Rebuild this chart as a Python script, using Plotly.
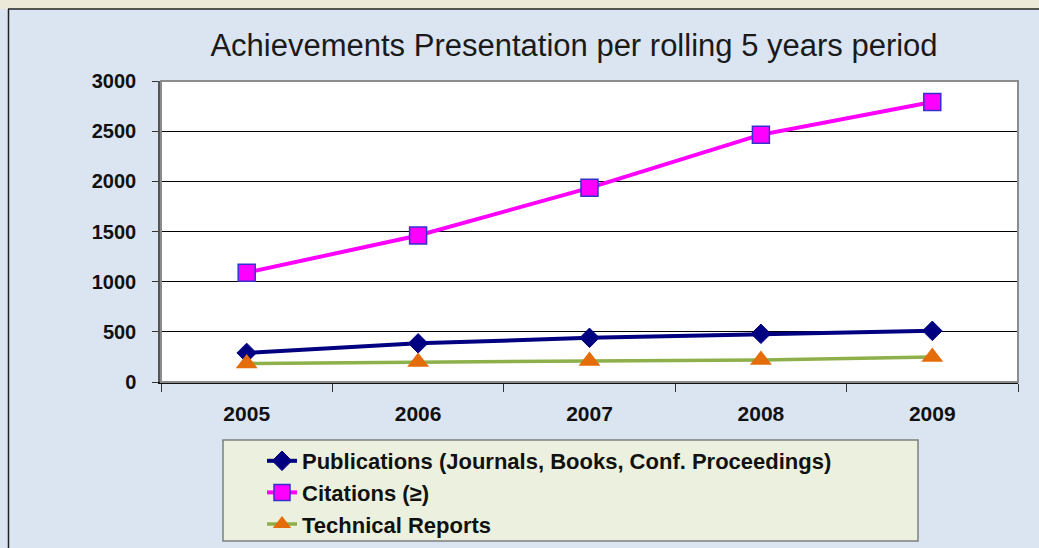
import plotly.graph_objects as go

years = ["2005", "2006", "2007", "2008", "2009"]
publications = [290, 385, 440, 480, 510]
citations = [1090, 1460, 1935, 2465, 2790]
tech_reports = [185, 200, 210, 220, 250]
y_ticks = [0, 500, 1000, 1500, 2000, 2500, 3000]

W, H = 1039, 548
L, R, T, B = 161, 1018, 81, 382

def px_x(p):
    return (p - L) / (R - L)

def px_y(p):
    return (B - p) / (B - T)

fig = go.Figure()
fig.add_trace(go.Scatter(
    x=years, y=publications, mode="lines+markers",
    name="Publications (Journals, Books, Conf. Proceedings)",
    line=dict(color="#000080", width=4),
    marker=dict(symbol="diamond", size=15, color="#000080",
                line=dict(color="#000080", width=1)),
))
fig.add_trace(go.Scatter(
    x=years, y=citations, mode="lines+markers",
    name="Citations (≥)",
    line=dict(color="#FF00FF", width=4),
    marker=dict(symbol="square", size=17, color="#FF00FF",
                line=dict(color="#3333CC", width=1.5)),
))
fig.add_trace(go.Scatter(
    x=years, y=tech_reports, mode="lines+markers",
    name="Technical Reports",
    line=dict(color="#8DB04A", width=3.5),
    marker=dict(symbol="triangle-up", size=19, color="#E46C0A",
                line=dict(color="#E46C0A", width=0)),
))

shapes = [
    # top beige strip
    dict(type="rect", xref="paper", yref="paper",
         x0=px_x(-5), x1=px_x(W + 5), y0=px_y(9), y1=px_y(-5),
         fillcolor="#ECE9D8", line=dict(width=0), layer="below"),
    # outer border lines
    dict(type="line", xref="paper", yref="paper",
         x0=px_x(8), x1=px_x(W + 5), y0=px_y(9), y1=px_y(9),
         line=dict(color="#222222", width=1.5)),
    dict(type="line", xref="paper", yref="paper",
         x0=px_x(8.5), x1=px_x(8.5), y0=px_y(9), y1=px_y(H + 5),
         line=dict(color="#222222", width=1.5)),
    # plot area border (top/right grey)
    dict(type="rect", xref="paper", yref="paper",
         x0=0, x1=1, y0=0, y1=1,
         line=dict(color="#8C8C8C", width=2), layer="above"),
    # legend box
    dict(type="rect", xref="paper", yref="paper",
         x0=px_x(223), x1=px_x(918), y0=px_y(541), y1=px_y(440),
         fillcolor="#EBF1DE", line=dict(color="#7F7F7F", width=1.5),
         layer="below"),
]

fig.update_layout(
    width=W, height=H,
    margin=dict(l=L, r=W - R, t=T, b=H - B, autoexpand=False),
    paper_bgcolor="#DBE5F1",
    plot_bgcolor="#FFFFFF",
    font=dict(family="Liberation Sans, Arial, sans-serif", color="#111111"),
    title=dict(
        text="Achievements Presentation per rolling 5 years period",
        font=dict(size=31, color="#1a1a1a"),
        x=574 / W, xanchor="center", xref="container",
        y=1 - 45 / H, yanchor="middle", yref="container",
    ),
    xaxis=dict(
        type="category", range=[-0.5, 4.5],
        showgrid=False, showline=True, linecolor="#111111", linewidth=2,
        ticks="outside", ticklen=8, tickcolor="#333333", tickwidth=1,
        tickson="boundaries",
        tickfont=dict(size=21, weight="bold", color="#111111"),
        ticklabelstandoff=12,
        fixedrange=True,
    ),
    yaxis=dict(
        range=[0, 3000], tickvals=y_ticks,
        showgrid=True, gridcolor="#000000", gridwidth=1,
        showline=True, linecolor="#555555", linewidth=2.5,
        ticks="outside", ticklen=6, tickcolor="#333333", tickwidth=1,
        tickfont=dict(size=20, weight="bold", color="#111111"),
        ticklabelstandoff=12,
        zeroline=False,
        fixedrange=True,
    ),
    legend=dict(
        x=px_x(262), y=px_y(440), xanchor="left", yanchor="top",
        xref="paper", yref="paper",
        bgcolor="rgba(0,0,0,0)", borderwidth=0,
        font=dict(size=22, weight="bold", color="#111111"),
        tracegroupgap=0,
    ),
    shapes=shapes,
    showlegend=True,
)

fig.write_html("out.html")
